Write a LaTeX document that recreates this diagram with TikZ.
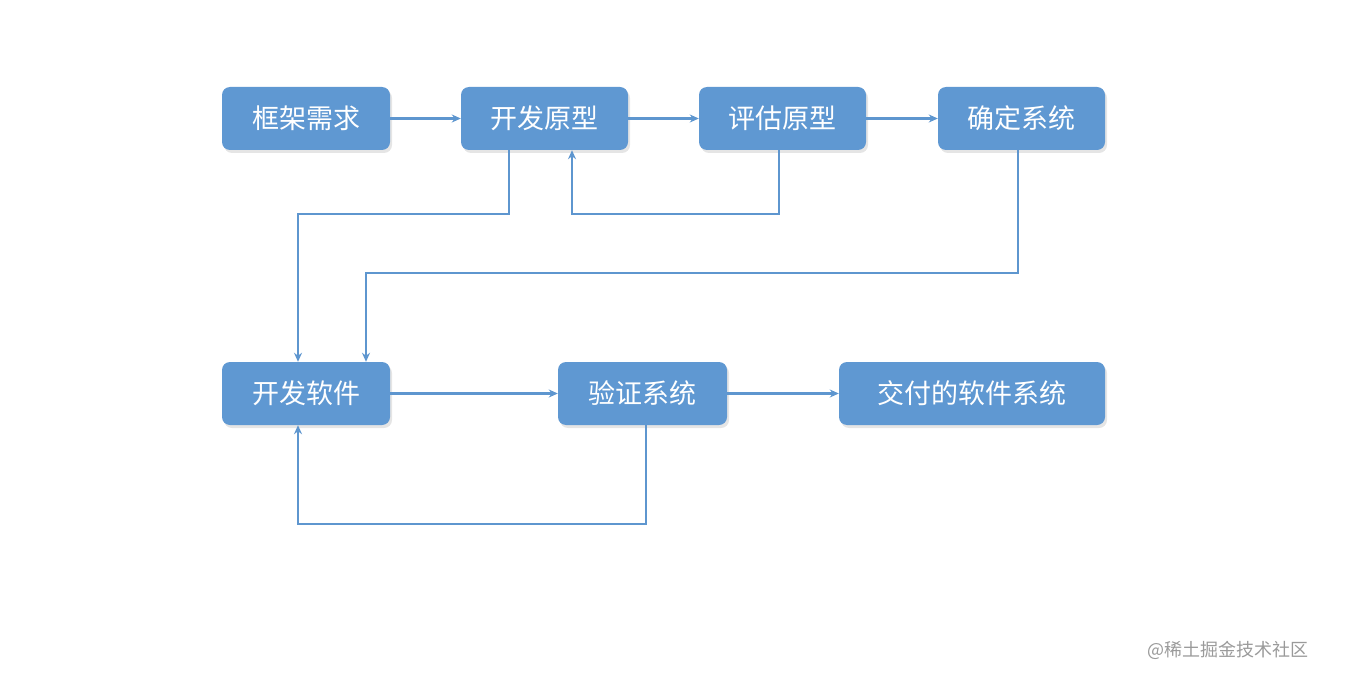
\documentclass[tikz,border=0pt]{standalone}
\usepackage{fontspec}
\newfontfamily\cjk{Noto Sans CJK SC}
\usetikzlibrary{arrows.meta,shadows}
\definecolor{boxblue}{HTML}{5F98D2}
\definecolor{lineblue}{HTML}{5E96CF}
\definecolor{wmgray}{HTML}{9A9A9A}
\tikzset{
  box/.style={rectangle, rounded corners=8pt, fill=boxblue, draw=none,
    text=white, font=\cjk\fontsize{27}{30}\selectfont, inner sep=0pt,
    drop shadow={shadow xshift=2pt, shadow yshift=-3pt, fill=black, opacity=0.10}},
  conn/.style={draw=lineblue, line width=2.2pt, -{Stealth[length=9pt,width=8pt]}},
}
\begin{document}
\begin{tikzpicture}[x=1pt,y=-1pt]
\useasboundingbox (0,0) rectangle (1368,698);
\node[box, minimum width=168pt, minimum height=63pt] (req) at (306,118.5) {框架需求};
\node[box, minimum width=167pt, minimum height=63pt] (proto) at (544.5,118.5) {开发原型};
\node[box, minimum width=167pt, minimum height=63pt] (eval) at (782.5,118.5) {评估原型};
\node[box, minimum width=167pt, minimum height=63pt] (fix) at (1021.5,118.5) {确定系统};
\node[box, minimum width=168pt, minimum height=63pt] (dev) at (306,393.5) {开发软件};
\node[box, minimum width=169pt, minimum height=63pt] (ver) at (642.5,393.5) {验证系统};
\node[box, minimum width=266pt, minimum height=63pt] (del) at (972,393.5) {交付的软件系统};
\node[text=wmgray, font=\cjk\fontsize{18}{20}\selectfont, anchor=west, inner sep=0pt] (wm) at (1147,650) {@稀土掘金技术社区};

\coordinate (a1) at (509,214);
\coordinate (a2) at (298,214);
\coordinate (b1) at (779,214);
\coordinate (b2) at (572,214);
\coordinate (c1) at (1018,273);
\coordinate (c2) at (366,273);
\coordinate (d1) at (646,524);
\coordinate (d2) at (298,524);

\draw[conn] (req) -- (proto);
\draw[conn] (proto) -- (eval);
\draw[conn] (eval) -- (fix);
\draw[conn] (dev) -- (ver);
\draw[conn] (ver) -- (del);
\draw[conn] (proto.south -| a1) -- (a1) -- (a2) -- (dev.north -| a2);
\draw[conn] (eval.south -| b1) -- (b1) -- (b2) -- (proto.south -| b2);
\draw[conn] (fix.south -| c1) -- (c1) -- (c2) -- (dev.north -| c2);
\draw[conn] (ver.south -| d1) -- (d1) -- (d2) -- (dev.south -| d2);
\end{tikzpicture}
\end{document}
